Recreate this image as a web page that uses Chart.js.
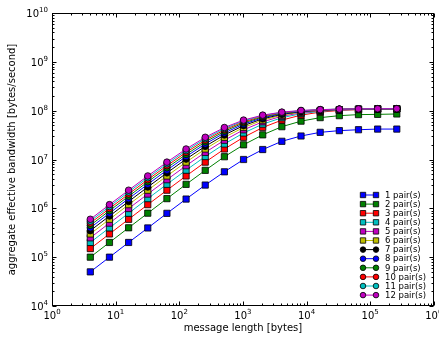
<!DOCTYPE html>
<html>
<head>
<meta charset="utf-8">
<script src="https://cdn.jsdelivr.net/npm/chart.js@4/dist/chart.umd.min.js"></script>
<style>
html,body{margin:0;padding:0;background:#fff;}
#wrap{width:439px;height:343px;position:relative;}
</style>
</head>
<body>
<div id="wrap"><canvas id="c" width="439" height="343"></canvas></div>
<script>
// message lengths [bytes]
const messageLengths = [4,8,16,32,64,128,256,512,1024,2048,4096,8192,16384,32768,65536,131072,262144];

// aggregate effective bandwidth [bytes/second]
const pairs1  = [5.0e4,1.0e5,2.0e5,3.96e5,7.9e5,1.55e6,3.0e6,5.6e6,1.0e7,1.6e7,2.36e7,3.03e7,3.6e7,3.9e7,4.07e7,4.2e7,4.2e7];
const pairs2  = [1.0e5,2.0e5,4.0e5,7.95e5,1.58e6,3.1e6,6.0e6,1.14e7,2.0e7,3.2e7,4.7e7,6.1e7,7.2e7,7.9e7,8.3e7,8.4e7,8.55e7];
const pairs3  = [1.5e5,2.99e5,5.97e5,1.19e6,2.35e6,4.6e6,8.83e6,1.64e7,2.85e7,4.52e7,6.41e7,8.1e7,9.33e7,1.01e8,1.05e8,1.08e8,1.09e8];
const pairs4  = [2.0e5,3.99e5,7.94e5,1.58e6,3.11e6,6.05e6,1.15e7,2.08e7,3.49e7,5.3e7,7.16e7,8.67e7,9.7e7,1.03e8,1.06e8,1.08e8,1.09e8];
const pairs5  = [2.49e5,4.98e5,9.91e5,1.96e6,3.86e6,7.46e6,1.4e7,2.48e7,4.05e7,5.92e7,7.69e7,9.05e7,9.93e7,1.04e8,1.07e8,1.085e8,1.09e8];
const pairs6  = [2.99e5,5.97e5,1.19e6,2.35e6,4.6e6,8.83e6,1.64e7,2.85e7,4.52e7,6.41e7,8.1e7,9.33e7,1.01e8,1.05e8,1.08e8,1.09e8,1.094e8];
const pairs7  = [3.49e5,6.96e5,1.38e6,2.73e6,5.33e6,1.02e7,1.86e7,3.18e7,4.94e7,6.82e7,8.42e7,9.54e7,1.02e8,1.06e8,1.08e8,1.09e8,1.095e8];
const pairs8  = [3.99e5,7.94e5,1.58e6,3.11e6,6.05e6,1.15e7,2.08e7,3.49e7,5.3e7,7.16e7,8.67e7,9.7e7,1.03e8,1.06e8,1.08e8,1.09e8,1.095e8];
const pairs9  = [4.48e5,8.93e5,1.77e6,3.49e6,6.76e6,1.27e7,2.28e7,3.78e7,5.63e7,7.44e7,8.88e7,9.83e7,1.04e8,1.07e8,1.084e8,1.092e8,1.096e8];
const pairs10 = [4.98e5,9.91e5,1.96e6,3.86e6,7.46e6,1.4e7,2.48e7,4.05e7,5.92e7,7.69e7,9.05e7,9.93e7,1.04e8,1.07e8,1.085e8,1.093e8,1.096e8];
const pairs11 = [5.47e5,1.09e6,2.16e6,4.23e6,8.15e6,1.52e7,2.67e7,4.29e7,6.18e7,7.91e7,9.2e7,1.0e8,1.05e8,1.074e8,1.087e8,1.094e8,1.097e8];
const pairs12 = [5.97e5,1.19e6,2.35e6,4.6e6,8.83e6,1.64e7,2.85e7,4.52e7,6.41e7,8.1e7,9.33e7,1.01e8,1.05e8,1.076e8,1.088e8,1.094e8,1.097e8];

const seriesLabels = ['1 pair(s)','2 pair(s)','3 pair(s)','4 pair(s)','5 pair(s)','6 pair(s)',
                      '7 pair(s)','8 pair(s)','9 pair(s)','10 pair(s)','11 pair(s)','12 pair(s)'];
const seriesValues = [pairs1,pairs2,pairs3,pairs4,pairs5,pairs6,pairs7,pairs8,pairs9,pairs10,pairs11,pairs12];

// axis tick labels (powers of ten)
const xTickExponents = [0,1,2,3,4,5,6];
const yTickExponents = [4,5,6,7,8,9,10];
const xTitle = 'message length [bytes]';
const yTitle = 'aggregate effective bandwidth [bytes/second]';

// styles
const colors  = ['#0000ff','#008000','#ff0000','#00bfbf','#bf00bf','#bfbf00',
                 '#000000','#0000ff','#008000','#ff0000','#00bfbf','#bf00bf'];
const markers = ['rect','rect','rect','rect','rect','rect',
                 'circle','circle','circle','circle','circle','circle'];
const FONT = '"DejaVu Sans", sans-serif';

const datasets = seriesValues.map((vals, i) => ({
  label: seriesLabels[i],
  data: messageLengths.map((m, j) => ({x: m, y: vals[j]})),
  borderColor: colors[i],
  backgroundColor: colors[i],
  borderWidth: 1,
  pointStyle: markers[i],
  pointRadius: markers[i] === 'rect' ? 4.4 : 3.3,
  pointBackgroundColor: colors[i],
  pointBorderColor: '#000000',
  pointBorderWidth: 0.8,
  tension: 0,
  order: seriesValues.length - i,
  clip: 8
}));

function drawPow(ctx, exp, x, y, align) {
  const base = '10', sup = String(exp);
  ctx.font = '10px ' + FONT;
  const wb = ctx.measureText(base).width;
  ctx.font = '7px ' + FONT;
  const ws = ctx.measureText(sup).width;
  const total = wb + ws;
  let x0 = align === 'right' ? x - total : x - total / 2;
  ctx.textBaseline = 'alphabetic';
  ctx.textAlign = 'left';
  ctx.font = '10px ' + FONT;
  ctx.fillText(base, x0, y);
  ctx.font = '7px ' + FONT;
  ctx.fillText(sup, x0 + wb, y - 5);
}

const framePlugin = {
  id: 'frame',
  afterDatasetsDraw(chart) {
    const ctx = chart.ctx;
    const a = chart.chartArea;
    const xs = chart.scales.x, ys = chart.scales.y;
    ctx.save();
    ctx.strokeStyle = '#000';
    ctx.lineWidth = 1;
    const L = Math.round(a.left) + 0.5, R = Math.round(a.right) - 0.5;
    const T = Math.round(a.top) + 0.5, B = Math.round(a.bottom) - 0.5;
    ctx.strokeRect(L, T, R - L, B - T);
    // ticks (inward, all sides)
    ctx.beginPath();
    for (let e = 0; e <= 6; e++) {
      for (let k = 1; k <= 9; k++) {
        const v = k * Math.pow(10, e);
        if (v > 1e6) break;
        const px = Math.round(xs.getPixelForValue(v)) + 0.5;
        const len = k === 1 ? 4 : 2;
        ctx.moveTo(px, B); ctx.lineTo(px, B - len);
        ctx.moveTo(px, T); ctx.lineTo(px, T + len);
      }
    }
    for (let e = 4; e <= 10; e++) {
      for (let k = 1; k <= 9; k++) {
        const v = k * Math.pow(10, e);
        if (v > 1e10) break;
        const py = Math.round(ys.getPixelForValue(v)) + 0.5;
        const len = k === 1 ? 4 : 2;
        ctx.moveTo(L, py); ctx.lineTo(L + len, py);
        ctx.moveTo(R, py); ctx.lineTo(R - len, py);
      }
    }
    ctx.stroke();
    // tick labels
    ctx.fillStyle = '#000';
    xTickExponents.forEach(e => {
      drawPow(ctx, e, xs.getPixelForValue(Math.pow(10, e)), a.bottom + 13, 'center');
    });
    yTickExponents.forEach(e => {
      drawPow(ctx, e, a.left - 4, ys.getPixelForValue(Math.pow(10, e)) + 4, 'right');
    });
    // axis titles
    ctx.font = '10px ' + FONT;
    ctx.textAlign = 'center';
    ctx.textBaseline = 'middle';
    ctx.fillText(xTitle, (a.left + a.right) / 2, a.bottom + 22);
    ctx.save();
    ctx.translate(12, (a.top + a.bottom) / 2);
    ctx.rotate(-Math.PI / 2);
    ctx.fillText(yTitle, 0, 0);
    ctx.restore();
    // legend
    const lx1 = 363, lx2 = 376, tx = 385, y0 = 195, dy = 9.1;
    ctx.font = '8.5px ' + FONT;
    ctx.textAlign = 'left';
    ctx.textBaseline = 'middle';
    seriesLabels.forEach((lab, i) => {
      const y = y0 + i * dy;
      ctx.strokeStyle = colors[i];
      ctx.lineWidth = 1;
      ctx.beginPath(); ctx.moveTo(lx1, y); ctx.lineTo(lx2, y); ctx.stroke();
      [lx1, lx2].forEach(px => {
        ctx.fillStyle = colors[i];
        ctx.strokeStyle = '#000';
        ctx.lineWidth = 0.8;
        ctx.beginPath();
        if (markers[i] === 'rect') ctx.rect(px - 2.7, y - 2.7, 5.4, 5.4);
        else ctx.arc(px, y, 2.8, 0, Math.PI * 2);
        ctx.fill(); ctx.stroke();
      });
      ctx.fillStyle = '#000';
      ctx.fillText(lab, tx, y + 0.5);
    });
    ctx.restore();
  }
};

new Chart(document.getElementById('c'), {
  type: 'line',
  data: { datasets },
  options: {
    responsive: false,
    animation: false,
    events: [],
    layout: { padding: { left: 52, right: 5, top: 13, bottom: 37 } },
    plugins: { legend: { display: false }, tooltip: { enabled: false }, title: { display: false } },
    scales: {
      x: { type: 'logarithmic', min: 1, max: 1e6, display: false },
      y: { type: 'logarithmic', min: 1e4, max: 1e10, display: false }
    }
  },
  plugins: [framePlugin]
});
</script>
</body>
</html>
